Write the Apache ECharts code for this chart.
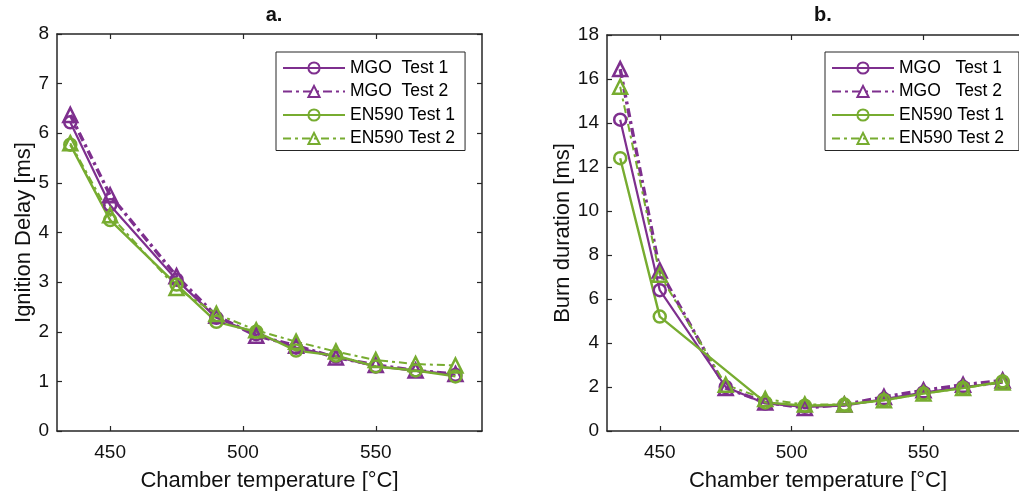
<!DOCTYPE html>
<html>
<head>
<meta charset="utf-8">
<script src="https://cdn.jsdelivr.net/npm/echarts@6/dist/echarts.min.js"></script>
<style>
html,body{margin:0;padding:0;background:#fff;}
#chart{width:1019px;height:491px;}
</style>
</head>
<body>
<div id="chart"></div>
<script>
// ---- data ----
const temperatures = [435, 450, 475, 490, 505, 520, 535, 550, 565, 580];
const xTicks = [450, 500, 550];

// Panel a: Ignition delay [ms]
const ignMGO1 = [6.22, 4.55, 3.05, 2.28, 1.95, 1.68, 1.50, 1.30, 1.22, 1.13];
const ignMGO2 = [6.37, 4.75, 3.12, 2.32, 1.92, 1.72, 1.48, 1.33, 1.22, 1.15];
const ignEN1  = [5.77, 4.25, 2.95, 2.20, 2.00, 1.62, 1.52, 1.30, 1.22, 1.10];
const ignEN2  = [5.80, 4.35, 2.88, 2.36, 2.03, 1.80, 1.60, 1.43, 1.35, 1.32];

// Panel b: Burn duration [ms]
const burnMGO1 = [14.15, 6.40, 2.00, 1.25, 1.10, 1.15, 1.45, 1.75, 2.00, 2.20];
const burnMGO2 = [16.45, 7.30, 1.95, 1.30, 1.05, 1.20, 1.55, 1.85, 2.10, 2.30];
const burnEN1  = [12.40, 5.20, null, 1.30, 1.15, 1.20, 1.40, 1.70, 1.95, 2.25];
const burnEN2  = [15.65, 7.10, 2.10, 1.45, 1.20, 1.20, 1.40, 1.70, 1.95, 2.20];

const namesA = ['MGO  Test 1', 'MGO  Test 2', 'EN590 Test 1', 'EN590 Test 2'];
const namesB = ['MGO   Test 1', 'MGO   Test 2', 'EN590 Test 1 ', 'EN590 Test 2 '];

// ---- styling ----
const PURPLE = '#7E2F8E';
const GREEN = '#77AC30';
const AXC = '#262626';
const FONT = '"Liberation Sans", Arial, Helvetica, sans-serif';

function pairs(vals) {
  return temperatures.map((t, i) => [t, vals[i]]);
}

const styles = [
  {color: PURPLE, symbol: 'circle',   size: 12, lw: 2.2, type: 'solid'},
  {color: PURPLE, symbol: 'triangle', size: 14, lw: 3.4, type: [9, 4, 3, 4]},
  {color: GREEN,  symbol: 'circle',   size: 12, lw: 2.4, type: 'solid'},
  {color: GREEN,  symbol: 'triangle', size: 14, lw: 2.0, type: [8, 4, 3, 4]}
];

function makeSeries(name, vals, st, axisIdx) {
  return {
    type: 'line', name: name,
    xAxisIndex: axisIdx, yAxisIndex: axisIdx,
    data: pairs(vals),
    connectNulls: true,
    symbol: st.symbol, symbolSize: st.size,
    showAllSymbol: true,
    lineStyle: {color: st.color, width: st.lw, type: st.type},
    itemStyle: {color: 'rgba(255,255,255,0)', borderColor: st.color, borderWidth: 2.5},
    emphasis: {disabled: true},
    animation: false
  };
}

function xAxisPair(grid) {
  const base = {
    type: 'value', gridIndex: grid, min: 430, max: 590,
    splitLine: {show: false},
    axisLine: {show: true, onZero: false, lineStyle: {color: AXC, width: 1.5}},
    axisTick: {show: true, inside: true, length: 5, customValues: xTicks, lineStyle: {color: AXC, width: 1.2}}
  };
  return [
    Object.assign({}, base, {
      position: 'bottom',
      axisLabel: {show: true, customValues: xTicks, margin: 12, fontSize: 19, color: '#111', fontFamily: FONT},
      name: 'Chamber temperature [°C]', nameLocation: 'middle', nameGap: 39,
      nameTextStyle: {fontSize: 22, color: '#111', fontFamily: FONT}
    }),
    Object.assign({}, base, {position: 'top', axisLabel: {show: false}})
  ];
}

function yAxisPair(grid, max, interval, name, gap) {
  const base = {
    type: 'value', gridIndex: grid, min: 0, max: max, interval: interval,
    splitLine: {show: false},
    axisLine: {show: true, onZero: false, lineStyle: {color: AXC, width: 1.5}},
    axisTick: {show: true, inside: true, length: 5, lineStyle: {color: AXC, width: 1.2}}
  };
  return [
    Object.assign({}, base, {
      position: 'left',
      axisLabel: {show: true, margin: 8, fontSize: 19, color: '#111', fontFamily: FONT},
      name: name, nameLocation: 'middle', nameGap: gap,
      nameTextStyle: {fontSize: 22, color: '#111', fontFamily: FONT}
    }),
    Object.assign({}, base, {position: 'right', axisLabel: {show: false}})
  ];
}

function legendCfg(names, left) {
  return {
    show: true, orient: 'vertical', left: left, top: 52,
    data: names,
    itemWidth: 62, itemHeight: 14, itemGap: 5.5,
    padding: [7, 10, 3, 6],
    backgroundColor: '#fff', borderColor: AXC, borderWidth: 1, borderRadius: 0,
    textStyle: {fontSize: 17.5, color: '#000', fontFamily: FONT},
    selectedMode: false
  };
}

const xa = xAxisPair(0), xb = xAxisPair(1);
const ya = yAxisPair(0, 8, 1, 'Ignition Delay [ms]', 22);
const yb = yAxisPair(1, 18, 2, 'Burn duration [ms]', 33);

const option = {
  backgroundColor: '#fff',
  animation: false,
  title: [
    {text: 'a.', left: 269, top: 0, textAlign: 'center',
     textStyle: {fontSize: 20, fontWeight: 'bold', color: '#111', fontFamily: FONT}},
    {text: 'b.', left: 818, top: 0, textAlign: 'center',
     textStyle: {fontSize: 20, fontWeight: 'bold', color: '#111', fontFamily: FONT}}
  ],
  grid: [
    {left: 57, top: 34, width: 425, height: 397, containLabel: false, outerBoundsMode: 'none'},
    {left: 607, top: 35, width: 422, height: 396, containLabel: false, outerBoundsMode: 'none'}
  ],
  xAxis: [xa[0], xa[1], xb[0], xb[1]],
  yAxis: [ya[0], ya[1], yb[0], yb[1]],
  legend: [legendCfg(namesA, 276), legendCfg(namesB, 825)],
  series: []
};

const setA = [ignMGO1, ignMGO2, ignEN1, ignEN2];
const setB = [burnMGO1, burnMGO2, burnEN1, burnEN2];
setA.forEach((v, i) => option.series.push(makeSeries(namesA[i], v, styles[i], 0)));
setB.forEach((v, i) => option.series.push(makeSeries(namesB[i], v, styles[i], 2)));

const chart = echarts.init(document.getElementById('chart'), null, {renderer: 'canvas'});
chart.setOption(option);
</script>
</body>
</html>
